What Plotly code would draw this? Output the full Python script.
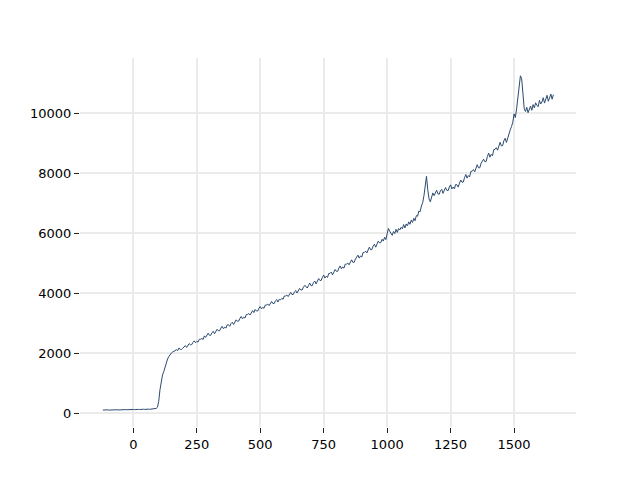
import plotly.graph_objects as go

x_start = -120
x_step = 5

intensity = [
    108, 114, 104, 111, 115, 106, 112, 117, 109, 110, 116, 119, 111, 117, 120, 113, 121, 116, 123, 117,
    124, 119, 127, 120, 128, 122, 130, 124, 131, 125, 133, 127, 135, 129, 137, 130, 139, 133, 140, 142,
    145, 150, 162, 200, 390, 780, 1110, 1280, 1390, 1560, 1690, 1810, 1890, 1960, 2010, 2040, 2070, 2090, 2120, 2090,
    2178, 2125, 2128, 2171, 2222, 2257, 2196, 2271, 2322, 2285, 2288, 2363, 2414, 2353, 2396, 2375, 2466, 2469, 2496, 2459,
    2580, 2530, 2600, 2670, 2600, 2600, 2690, 2730, 2650, 2740, 2800, 2750, 2750, 2840, 2900, 2820, 2870, 2840, 2950, 2950,
    2900, 2993, 3036, 2959, 3052, 3115, 3068, 3071, 3164, 3227, 3150, 3203, 3176, 3289, 3292, 3325, 3278, 3351, 3424, 3357,
    3460, 3410, 3410, 3500, 3560, 3480, 3530, 3500, 3610, 3610, 3640, 3590, 3660, 3730, 3660, 3660, 3750, 3790, 3710, 3800,
    3780, 3830, 3800, 3910, 3910, 3940, 3890, 3960, 4030, 3960, 3960, 4050, 4090, 4010, 4100, 4160, 4110, 4110, 4200, 4260,
    4236, 4175, 4258, 4341, 4256, 4255, 4362, 4409, 4312, 4419, 4490, 4429, 4428, 4535, 4606, 4509, 4568, 4531, 4662, 4661,
    4708, 4612, 4720, 4792, 4732, 4732, 4840, 4912, 4816, 4876, 4840, 4972, 4972, 5008, 4948, 5032, 5116, 5032, 5032, 5140,
    5189, 5272, 5173, 5243, 5209, 5357, 5362, 5406, 5346, 5442, 5538, 5452, 5457, 5579, 5636, 5537, 5659, 5742, 5682, 5687,
    5800, 5740, 5870, 5790, 5980, 6160, 6070, 5980, 5930, 6060, 5990, 6130, 6030, 6160, 6110, 6200, 6150, 6290, 6180, 6310,
    6250, 6380, 6300, 6440, 6360, 6500, 6420, 6590, 6570, 6740, 6720, 6910, 7020, 7250, 7650, 7900, 7450, 7150, 7050, 7220,
    7345, 7255, 7345, 7435, 7315, 7300, 7420, 7465, 7330, 7450, 7525, 7435, 7420, 7540, 7615, 7480, 7540, 7480, 7630, 7615,
    7540, 7674, 7776, 7702, 7708, 7858, 7960, 7838, 7924, 7882, 8064, 8070, 8124, 8050, 8168, 8286, 8180, 8186, 8336, 8406,
    8470, 8386, 8392, 8560, 8674, 8536, 8632, 8584, 8788, 8794, 8854, 8770, 8902, 9034, 8914, 8920, 9088, 9166, 9028, 9196,
    9300, 9450, 9560, 9700, 9980, 9860, 10150, 10500, 10900, 11250, 11150, 10700, 10150, 10060, 10200, 10020, 10170, 10240, 10100, 10290,
    10180, 10350, 10260, 10220, 10430, 10310, 10380, 10520, 10340, 10470, 10600, 10400, 10520, 10640, 10470, 10620,
]

shift = [x_start + x_step * i for i in range(len(intensity))]

x_ticks = [0, 250, 500, 750, 1000, 1250, 1500]
y_ticks = [0, 2000, 4000, 6000, 8000, 10000]

fig = go.Figure()
fig.add_trace(go.Scatter(
    x=shift, y=intensity, mode="lines",
    line=dict(color="#2c4a70", width=1),
    showlegend=False, hoverinfo="skip",
))

axis_common = dict(
    showline=False, zeroline=False,
    showgrid=True, gridcolor="#ebebeb", gridwidth=1.5,
    ticks="outside", ticklen=5, tickwidth=1, tickcolor="#222222",
    tickfont=dict(family="DejaVu Sans", size=13, color="#000000"),
)

fig.update_layout(
    width=640, height=480,
    margin=dict(l=72, r=72, t=50, b=61),
    paper_bgcolor="white", plot_bgcolor="white",
    xaxis=dict(range=[-210, 1744], tickvals=x_ticks, ticktext=[str(v) for v in x_ticks], **axis_common),
    yaxis=dict(range=[-457, 11843], tickvals=y_ticks, ticktext=[str(v) for v in y_ticks], **axis_common),
)

fig.write_html("out.html")
